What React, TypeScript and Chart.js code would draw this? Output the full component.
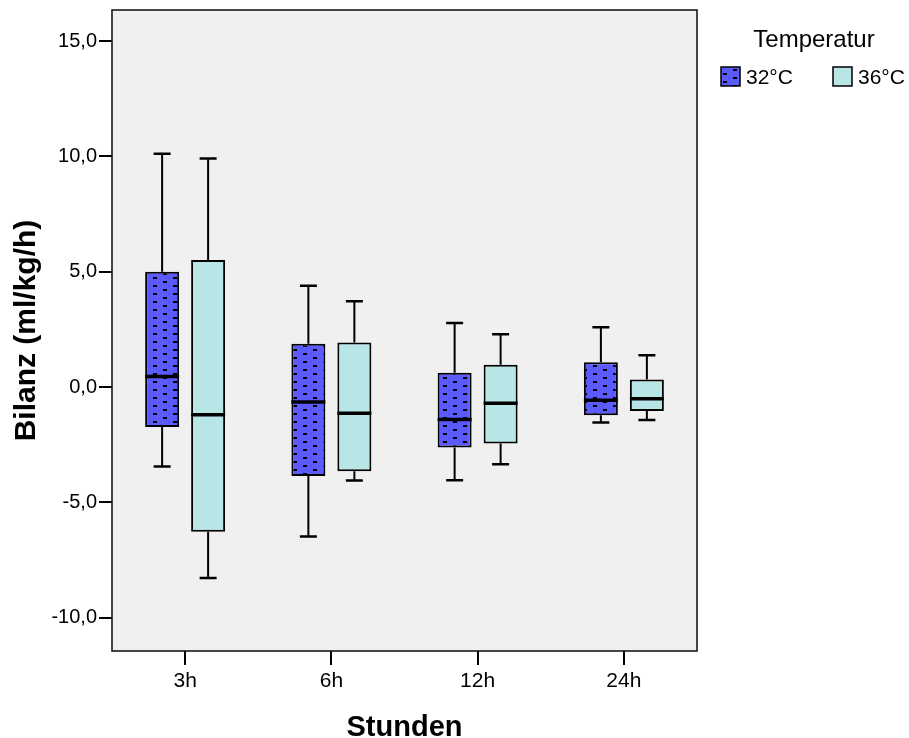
import React, { useEffect, useRef } from 'react';
import { Chart, registerables } from 'chart.js';

Chart.register(...registerables);

const categories = ['3h', '6h', '12h', '24h'];
const seriesLabels = ['32°C', '36°C'];
const legendTitle = 'Temperatur';
const xTitle = 'Stunden';
const yTitle = 'Bilanz (ml/kg/h)';
const yTicks = [-10, -5, 0, 5, 10, 15];
const yMin = -11.45;
const yMax = 16.35;

// 32°C
const min32 = [-3.45, -6.48, -4.04, -1.54];
const q1_32 = [-1.74, -3.86, -2.62, -1.23];
const med32 = [0.46, -0.65, -1.41, -0.58];
const q3_32 = [5.0, 1.87, 0.62, 1.07];
const max32 = [10.12, 4.39, 2.78, 2.59];

// 36°C
const min36 = [-8.28, -4.06, -3.35, -1.43];
const q1_36 = [-6.28, -3.65, -2.45, -1.04];
const med36 = [-1.2, -1.14, -0.7, -0.51];
const q3_36 = [5.51, 1.93, 0.97, 0.32];
const max36 = [9.91, 3.72, 2.29, 1.38];

const stats = [
  { min: min32, q1: q1_32, med: med32, q3: q3_32, max: max32 },
  { min: min36, q1: q1_36, med: med36, q3: q3_36, max: max36 },
];

const FONT = '"Liberation Sans", Arial, Helvetica, sans-serif';
const BLUE = '#5a5aff';
const CYAN = '#b8e6e6';

function makePattern(): CanvasPattern | string {
  const c = document.createElement('canvas');
  c.width = 20;
  c.height = 8;
  const g = c.getContext('2d');
  if (!g) return BLUE;
  g.fillStyle = BLUE;
  g.fillRect(0, 0, 20, 8);
  g.fillStyle = '#000';
  g.fillRect(3, 1, 4, 2);
  g.fillRect(13, 5, 4, 2);
  const p = g.createPattern(c, 'repeat');
  return p || BLUE;
}

export default function App() {
  const ref = useRef<HTMLCanvasElement | null>(null);

  useEffect(() => {
    document.body.style.margin = '0';
    const canvas = ref.current;
    if (!canvas) return;
    const pattern = makePattern();
    const fills = [pattern, CYAN];

    const bgPlugin = {
      id: 'plotBg',
      beforeDraw(chart: any) {
        const { ctx, chartArea } = chart;
        ctx.save();
        ctx.fillStyle = '#ffffff';
        ctx.fillRect(0, 0, chart.width, chart.height);
        ctx.fillStyle = '#f0f0f0';
        ctx.fillRect(chartArea.left, chartArea.top, chartArea.right - chartArea.left, chartArea.bottom - chartArea.top);
        ctx.restore();
      },
    };

    const boxPlugin = {
      id: 'boxWhiskers',
      afterDatasetsDraw(chart: any) {
        const { ctx } = chart;
        const y = chart.scales.y;
        chart.data.datasets.forEach((_ds: any, di: number) => {
          const meta = chart.getDatasetMeta(di);
          const s = stats[di];
          meta.data.forEach((el: any, i: number) => {
            const x = el.x;
            const w = el.width;
            const pMin = y.getPixelForValue(s.min[i]);
            const pQ1 = y.getPixelForValue(s.q1[i]);
            const pMed = y.getPixelForValue(s.med[i]);
            const pQ3 = y.getPixelForValue(s.q3[i]);
            const pMax = y.getPixelForValue(s.max[i]);
            const cap = w * 0.25;
            ctx.save();
            ctx.strokeStyle = '#000';
            ctx.lineCap = 'butt';
            ctx.lineWidth = 2;
            ctx.beginPath();
            ctx.moveTo(x, pQ3);
            ctx.lineTo(x, pMax);
            ctx.moveTo(x, pQ1);
            ctx.lineTo(x, pMin);
            ctx.stroke();
            ctx.lineWidth = 2.5;
            ctx.beginPath();
            ctx.moveTo(x - cap, pMax);
            ctx.lineTo(x + cap, pMax);
            ctx.moveTo(x - cap, pMin);
            ctx.lineTo(x + cap, pMin);
            ctx.stroke();
            ctx.lineWidth = 3.5;
            ctx.beginPath();
            ctx.moveTo(x - w / 2, pMed);
            ctx.lineTo(x + w / 2, pMed);
            ctx.stroke();
            ctx.restore();
          });
        });
      },
      afterDraw(chart: any) {
        const { ctx, chartArea } = chart;
        ctx.save();
        // frame
        ctx.strokeStyle = '#1a1a1a';
        ctx.lineWidth = 1.6;
        ctx.strokeRect(chartArea.left, chartArea.top, chartArea.right - chartArea.left, chartArea.bottom - chartArea.top);
        // legend
        const lx = chartArea.right + 24;
        ctx.fillStyle = '#000';
        ctx.font = `24px ${FONT}`;
        ctx.textAlign = 'center';
        ctx.textBaseline = 'middle';
        ctx.fillText(legendTitle, lx + 93, chartArea.top + 30);
        ctx.font = `21px ${FONT}`;
        ctx.textAlign = 'left';
        chart.data.datasets.forEach((ds: any, di: number) => {
          const sx = lx + di * 112;
          const sy = chartArea.top + 57;
          ctx.fillStyle = fills[di];
          ctx.fillRect(sx, sy, 19, 19);
          ctx.strokeStyle = '#000';
          ctx.lineWidth = 1.5;
          ctx.strokeRect(sx, sy, 19, 19);
          ctx.fillStyle = '#000';
          ctx.fillText(ds.label, sx + 25, sy + 11);
        });
        ctx.restore();
      },
    };

    const chart = new Chart(canvas, {
      type: 'bar',
      data: {
        labels: categories,
        datasets: [
          {
            label: seriesLabels[0],
            data: categories.map((_, i) => [q1_32[i], q3_32[i]]) as any,
            backgroundColor: pattern as any,
            borderColor: '#000',
            borderWidth: 2,
            borderSkipped: false,
            categoryPercentage: 0.629,
            barPercentage: 0.739,
          },
          {
            label: seriesLabels[1],
            data: categories.map((_, i) => [q1_36[i], q3_36[i]]) as any,
            backgroundColor: CYAN,
            borderColor: '#000',
            borderWidth: 2,
            borderSkipped: false,
            categoryPercentage: 0.629,
            barPercentage: 0.739,
          },
        ],
      },
      options: {
        responsive: false,
        animation: false,
        events: [],
        layout: { padding: { top: 10, right: 212, left: 0, bottom: 0 } },
        plugins: {
          legend: { display: false },
          tooltip: { enabled: false },
          title: { display: false },
        },
        scales: {
          x: {
            type: 'category',
            offset: true,
            grid: {
              display: true,
              drawOnChartArea: false,
              drawTicks: true,
              tickLength: 14,
              offset: false,
              color: '#000',
              lineWidth: 2,
            },
            border: { display: false },
            ticks: {
              color: '#000',
              font: { family: FONT, size: 21 },
              padding: 4,
            },
            title: {
              display: true,
              text: xTitle,
              color: '#000',
              font: { family: FONT, size: 29, weight: 'bold', lineHeight: 0.72 },
              padding: { top: 0, bottom: 0 },
            },
            afterFit: (s: any) => {
              s.height = 87;
              s.paddingLeft = 0;
              s.paddingRight = 0;
            },
          },
          y: {
            type: 'linear',
            min: yMin,
            max: yMax,
            afterBuildTicks: (s: any) => {
              s.ticks = yTicks.map((v) => ({ value: v }));
            },
            grid: {
              display: true,
              drawOnChartArea: false,
              drawTicks: true,
              tickLength: 13,
              color: '#000',
              lineWidth: 2,
            },
            border: { display: false },
            ticks: {
              color: '#000',
              font: { family: FONT, size: 20 },
              padding: 2,
              callback: (v: any) => Number(v).toFixed(1).replace('.', ','),
            },
            title: {
              display: true,
              text: yTitle,
              color: '#000',
              font: { family: FONT, size: 30, weight: 'bold', lineHeight: 1 },
              padding: { top: 12, bottom: 0 },
            },
            afterFit: (s: any) => {
              s.width = 112;
              s.paddingTop = 0;
              s.paddingBottom = 0;
            },
          },
        },
      },
      plugins: [bgPlugin, boxPlugin],
    });

    return () => {
      chart.destroy();
    };
  }, []);

  return (
    <div style={{ width: 909, height: 738 }}>
      <canvas ref={ref} width={909} height={738} style={{ display: 'block', width: 909, height: 738 }} />
    </div>
  );
}
